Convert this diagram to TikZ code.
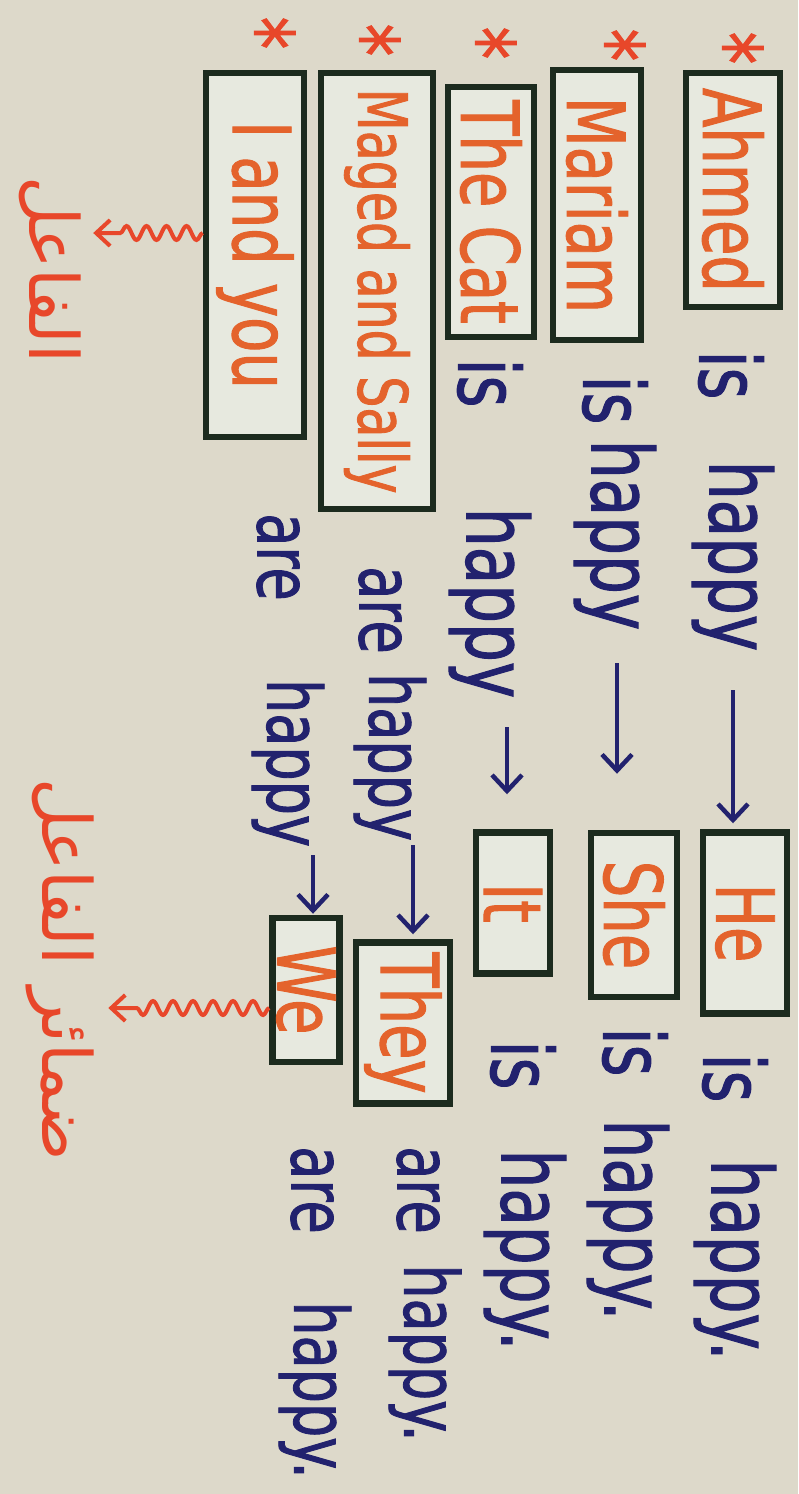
\documentclass[tikz,border=0pt]{standalone}
\usepackage{fontspec}
\setmainfont{DejaVu Sans}[FakeStretch=0.72, FakeBold=1.2]
\newfontfamily\arabicfont[Script=Arabic]{DejaVu Sans}
\TeXXeTstate=1
\usetikzlibrary{arrows.meta,decorations.pathmorphing}
\definecolor{paper}{HTML}{DDD9CA}
\definecolor{boxfill}{HTML}{E7E9DF}
\definecolor{boxline}{HTML}{1C2B1E}
\definecolor{nameorange}{HTML}{E4632C}
\definecolor{penblue}{HTML}{22226E}
\definecolor{penred}{HTML}{E8472A}

\begin{document}
\begin{tikzpicture}[x=1pt, y=-1pt,
    name box/.style={draw=boxline, line width=6.5pt, fill=boxfill, rotate=-90, text=nameorange, inner sep=0pt, font=\fontsize{80}{80}\selectfont},
    pen/.style={rotate=-90, text=penblue, inner sep=2pt, font=\fontsize{85}{85}\selectfont},
    small pen/.style={pen, font=\fontsize{75}{75}\selectfont},
    star mark/.style={rotate=-90, text=penred, inner sep=0pt, font=\fontsize{90}{90}\selectfont},
    note/.style={rotate=-90, text=penred, inner sep=2pt, font=\arabicfont\fontsize{68}{68}\selectfont},
    pointer/.style={draw=penblue, line width=4.5pt, -{Straight Barb[length=16pt,width=30pt]}},
    wavy/.style={draw=penred, line width=4pt, decorate, decoration={snake, amplitude=7pt, segment length=20pt, post length=32pt}, -{Straight Barb[length=14pt,width=26pt]}}]
    \useasboundingbox (0,0) rectangle (798,1494);
    \fill[paper] (0,0) rectangle (798,1494);

    % row 1
    \node[star mark] at (730, 48) (s1) {*};
    \node[name box, minimum width=234pt, minimum height=94pt] at (733, 190) (ahmed) {Ahmed};
    \node[pen] at (731, 375) (is1) {is};
    \node[pen] at (733, 556) (happy1) {happy};
    \node[name box, minimum width=181pt, minimum height=84pt] at (745, 923) (he) {He};
    \node[pen] at (735, 1078) (is1b) {is};
    \node[pen] at (735, 1260) (happy1b) {happy.};

    % row 2
    \node[star mark] at (612, 45) (s2) {*};
    \node[name box, minimum width=270pt, minimum height=88pt] at (597, 205) (mariam) {Mariam};
    \node[pen] at (615, 400) (is2) {is};
    \node[pen] at (615, 535) (happy2) {happy};
    \node[name box, minimum width=164pt, minimum height=86pt] at (634, 915) (she) {She};
    \node[pen] at (635, 1052) (is2b) {is};
    \node[pen] at (628, 1220) (happy2b) {happy.};

    % row 3
    \node[star mark] at (483, 43) (s3) {*};
    \node[name box, minimum width=250pt, minimum height=86pt] at (491, 212) (cat) {The Cat};
    \node[pen] at (490, 383) (is3) {is};
    \node[pen] at (490, 603) (happy3) {happy};
    \node[name box, minimum width=141pt, minimum height=74pt] at (513, 903) (it) {It};
    \node[pen] at (523, 1065) (is3b) {is};
    \node[pen] at (525, 1250) (happy3b) {happy.};

    % row 4
    \node[star mark] at (367, 40) (s4) {*};
    \node[name box, minimum width=436pt, minimum height=112pt, font=\fontsize{68}{68}\selectfont] at (377, 291) (maged) {Maged and Sally};
    \node[small pen] at (380, 610) (are4) {are};
    \node[small pen] at (390, 757) (happy4) {happy};
    \node[name box, minimum width=161pt, minimum height=94pt] at (403, 1023) (they) {They};
    \node[small pen] at (418, 1190) (are4b) {are};
    \node[small pen] at (425, 1353) (happy4b) {happy.};

    % row 5
    \node[star mark] at (262, 33) (s5) {*};
    \node[name box, minimum width=364pt, minimum height=98pt] at (255, 255) (iyou) {I and you};
    \node[small pen] at (278, 557) (are5) {are};
    \node[small pen] at (288, 763) (happy5) {happy};
    \node[name box, minimum width=144pt, minimum height=67pt] at (306, 990) (we) {We};
    \node[small pen] at (312, 1190) (are5b) {are};
    \node[small pen] at (315, 1390) (happy5b) {happy.};

    % arabic notes
    \node[note] at (50, 270) (subj) {\beginR الفاعل\endR};
    \node[note] at (60, 970) (pron) {\beginR ضمائر الفاعل\endR};

    \draw[pointer, shorten <=37pt, shorten >=6pt] (happy1.east) -- (happy1.east |- he.west);
    \draw[pointer, shorten <=31pt, shorten >=56pt] ([xshift=2pt]happy2.east) -- ([xshift=2pt]happy2.east |- she.west);
    \draw[pointer, shorten <=27pt, shorten >=35pt] ([xshift=17pt]happy3.east) -- ([xshift=17pt]happy3.east |- it.west);
    \draw[pointer, shorten <=2pt, shorten >=5pt] ([xshift=23pt]happy4.east) -- ([xshift=23pt]happy4.east |- they.west);
    \draw[pointer, shorten <=6pt, shorten >=1pt] ([xshift=25pt]happy5.east) -- ([xshift=25pt]happy5.east |- we.west);

    \draw[wavy, shorten >=10pt] ([yshift=22pt]iyou.south) -- ([yshift=22pt]iyou.south -| subj.north);
    \draw[wavy, shorten >=12pt] ([yshift=-18pt]we.south) -- ([yshift=-18pt]we.south -| pron.north);
\end{tikzpicture}
\end{document}
